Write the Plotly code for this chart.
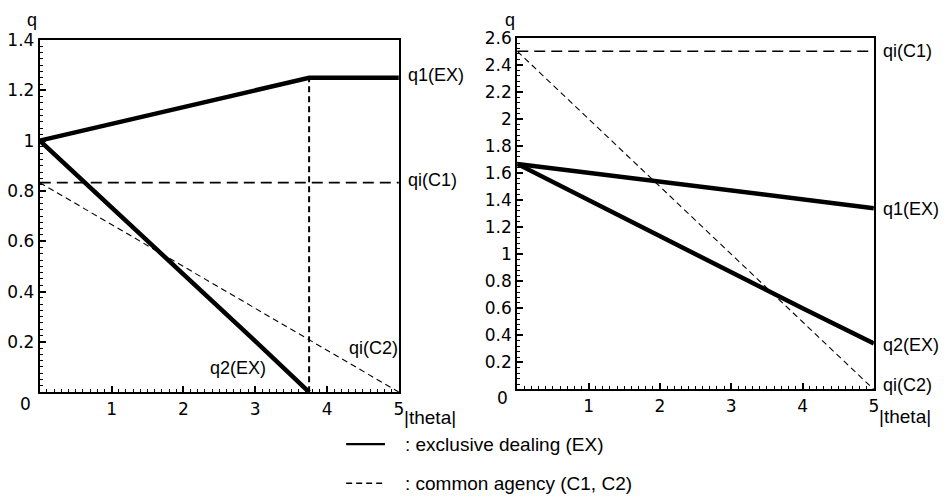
import plotly.graph_objects as go

W, H = 948, 496

# ---------------- data ----------------
# left panel
L_q1_x = [0, 3.75, 5]
L_q1_y = [1.0, 1.25, 1.25]
L_q2_x = [0, 1, 2, 3, 3.75]
L_q2_y = [1.0, 0.735, 0.465, 0.203, 0.0]
L_c1_x = [0, 5]
L_c1_y = [0.833, 0.833]
L_c2_x = [0, 5]
L_c2_y = [0.833, 0.0]
L_vert_x = [3.75, 3.75]
L_vert_y = [0.0, 1.25]

# right panel
R_q1_x = [0, 5]
R_q1_y = [1.667, 1.34]
R_q2_x = [0, 1, 2, 3, 4, 5]
R_q2_y = [1.667, 1.40, 1.13, 0.87, 0.60, 0.34]
R_c1_x = [0, 5]
R_c1_y = [2.5, 2.5]
R_c2_x = [0, 5]
R_c2_y = [2.5, 0.0]

x_ticks = [1, 2, 3, 4, 5]
L_y_ticks = [0.2, 0.4, 0.6, 0.8, 1.0, 1.2, 1.4]
L_y_labels = ["0.2", "0.4", "0.6", "0.8", "1", "1.2", "1.4"]
R_y_ticks = [0.2, 0.4, 0.6, 0.8, 1.0, 1.2, 1.4, 1.6, 1.8, 2.0, 2.2, 2.4, 2.6]
R_y_labels = ["0.2", "0.4", "0.6", "0.8", "1", "1.2", "1.4", "1.6", "1.8", "2", "2.2", "2.4", "2.6"]

legend_labels = [": exclusive dealing (EX)", ": common agency (C1, C2)"]

# ---------------- figure ----------------
FONT = "Liberation Sans, Arial, sans-serif"
TFONT = "DejaVu Sans, sans-serif"
fig = go.Figure()

thick = dict(color="black", width=4.5)
c1 = dict(color="black", width=1.6, dash="11px,6px")
c2 = dict(color="black", width=1.1, dash="6px,4px")
vert = dict(color="black", width=2, dash="6px,4px")

def add(x, y, line, xa, ya):
    fig.add_trace(go.Scatter(x=x, y=y, mode="lines", line=line, xaxis=xa, yaxis=ya,
                             showlegend=False, hoverinfo="skip"))

add(L_c1_x, L_c1_y, c1, "x", "y")
add(L_c2_x, L_c2_y, c2, "x", "y")
add(L_vert_x, L_vert_y, vert, "x", "y")
add(L_q1_x, L_q1_y, thick, "x", "y")
add(L_q2_x, L_q2_y, thick, "x", "y")

add(R_c1_x, R_c1_y, c1, "x2", "y2")
add(R_c2_x, R_c2_y, c2, "x2", "y2")
add(R_q1_x, R_q1_y, thick, "x2", "y2")
add(R_q2_x, R_q2_y, thick, "x2", "y2")

def px(x):
    return x / W

def py(y):
    return 1 - y / H

axis_common = dict(showline=True, linewidth=2, linecolor="black", mirror=True,
                   showgrid=False, zeroline=False, ticks="inside", ticklen=6,
                   tickwidth=1.5, tickcolor="black",
                   tickfont=dict(family=TFONT, size=17, color="black"))

fig.update_layout(
    width=W, height=H, margin=dict(l=0, r=0, t=0, b=0),
    paper_bgcolor="white", plot_bgcolor="white", showlegend=False,
    xaxis=dict(domain=[px(40), px(401)], range=[0, 5], tickvals=x_ticks,
               minor=dict(dtick=0.1, ticks="inside", ticklen=3, tickcolor="black", tickwidth=1),
               anchor="y", **axis_common),
    yaxis=dict(domain=[py(390), py(30.7)], range=[0, 1.4], tickvals=L_y_ticks, ticktext=L_y_labels,
               minor=dict(dtick=0.025, ticks="inside", ticklen=3, tickcolor="black", tickwidth=1),
               anchor="x", **axis_common),
    xaxis2=dict(domain=[px(520), px(878.5)], range=[0, 5], tickvals=x_ticks,
                minor=dict(dtick=0.1, ticks="inside", ticklen=3, tickcolor="black", tickwidth=1),
                anchor="y2", **axis_common),
    yaxis2=dict(domain=[py(387.3), py(28.3)], range=[0, 2.6], tickvals=R_y_ticks, ticktext=R_y_labels,
                minor=dict(dtick=0.04, ticks="inside", ticklen=3, tickcolor="black", tickwidth=1),
                anchor="x2", **axis_common),
)

ann = []
def text(t, x, y, xanchor="left", yanchor="middle", size=18, family=FONT):
    ann.append(dict(text=t, x=px(x), y=py(y), xref="paper", yref="paper", showarrow=False,
                    xanchor=xanchor, yanchor=yanchor,
                    font=dict(family=family, size=size, color="black")))

# left panel labels
text("q", 32, 10, xanchor="center", size=18)
text("0", 26, 402, xanchor="center", size=17, family=TFONT)
text("q1(EX)", 408, 66)
text("qi(C1)", 408, 174)
text("qi(C2)", 349, 345)
text("q2(EX)", 209, 365)
text("|theta|", 404, 416, size=19)

# right panel labels
text("q", 513, 10, xanchor="center", size=18)
text("0", 505, 396, xanchor="center", size=17, family=TFONT)
text("qi(C1)", 886, 42)
text("q1(EX)", 886, 203)
text("q2(EX)", 886, 342)
text("qi(C2)", 886, 383)
text("|theta|", 882, 415, size=19)

# legend
text(legend_labels[0], 405, 443, size=19)
text(legend_labels[1], 405, 483, size=19)
fig.update_layout(annotations=ann)

fig.add_shape(type="line", xref="paper", yref="paper", x0=px(348), x1=px(387), y0=py(443), y1=py(443),
              line=dict(color="black", width=2.2))
fig.add_shape(type="line", xref="paper", yref="paper", x0=px(348), x1=px(387), y0=py(483), y1=py(483),
              line=dict(color="black", width=1.4, dash="6px,4px"))

fig.write_html("out.html")
